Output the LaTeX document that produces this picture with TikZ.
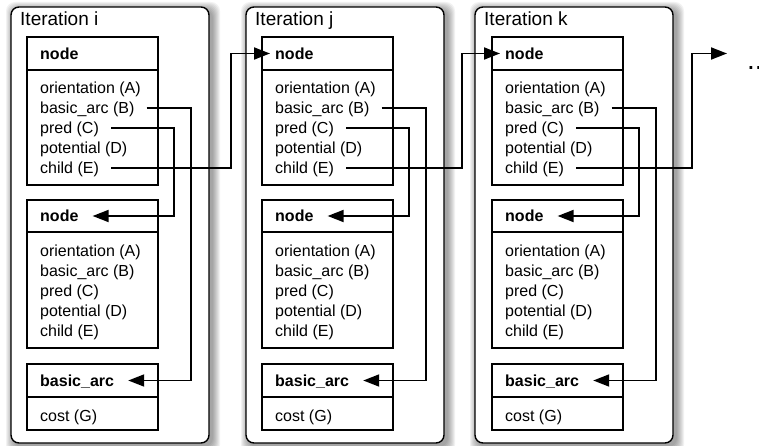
\documentclass[tikz,border=0pt]{standalone}
\usepackage{fontspec}
\setmainfont{Liberation Sans}
\usetikzlibrary{arrows.meta,calc}
\tikzset{
  panel/.style={draw, line width=1.4pt, fill=white, rounded corners=8pt, minimum width=198pt, minimum height=436pt, anchor=north west, inner sep=0pt, outer sep=0pt},
  box/.style={draw, line width=1.3pt, fill=white, minimum width=131pt, anchor=north west, inner sep=0pt, outer sep=0pt},
  txt/.style={font=\fontsize{16}{19}\selectfont, inner sep=0pt, text height=11.5pt, text depth=0pt, anchor=west},
  boldtxt/.style={txt, font=\fontsize{16}{19}\selectfont\bfseries},
  title/.style={font=\fontsize{19}{22}\selectfont, inner sep=0pt, anchor=base west},
  conn/.style={line width=1.8pt, -{Triangle[length=16pt,width=12pt]}},
  shade/.style={fill=black, opacity=0.05, rounded corners=9pt},
}
\begin{document}
\begin{tikzpicture}[x=1pt,y=-1pt]
\useasboundingbox (0,0) rectangle (759,446);
\fill[white] (0,0) rectangle (759,446);
\foreach \p/\px/\bx in {i/11/27, j/246/262, k/475/492} {
  \foreach \s in {1,...,8}
    \fill[shade] (\px+3-\s, 10-\s) rectangle (\px+201+\s, 446+\s);
  \node[panel] (\p-panel) at (\px,7) {};
  \node[title] (\p-title) at (\px+9,26) {Iteration \p};
  \node[box, minimum height=33pt] (\p-n1h) at (\bx,37) {};
  \node[box, minimum height=115pt] (\p-n1b) at (\bx,70) {};
  \node[box, minimum height=32pt] (\p-n2h) at (\bx,200) {};
  \node[box, minimum height=116pt] (\p-n2b) at (\bx,232) {};
  \node[box, minimum height=33pt] (\p-ah) at (\bx,364) {};
  \node[box, minimum height=33pt] (\p-ab) at (\bx,397) {};
  \node[boldtxt] (\p-n1t) at ([xshift=13pt]\p-n1h.west) {node};
  \node[txt] (\p-a) at (\bx+13,88) {orientation (A)};
  \node[txt] (\p-b) at (\bx+13,108) {basic\_arc (B)};
  \node[txt] (\p-c) at (\bx+13,128) {pred (C)};
  \node[txt] (\p-d) at (\bx+13,148) {potential (D)};
  \node[txt] (\p-e) at (\bx+13,168) {child (E)};
  \node[boldtxt] (\p-n2t) at ([xshift=13pt]\p-n2h.west) {node};
  \node[txt] (\p-a2) at (\bx+13,251) {orientation (A)};
  \node[txt] (\p-b2) at (\bx+13,271) {basic\_arc (B)};
  \node[txt] (\p-c2) at (\bx+13,291) {pred (C)};
  \node[txt] (\p-d2) at (\bx+13,311) {potential (D)};
  \node[txt] (\p-e2) at (\bx+13,331) {child (E)};
  \node[boldtxt] (\p-at) at ([xshift=13pt]\p-ah.west) {basic\_arc};
  \node[txt] (\p-g) at (\bx+13,416) {cost (G)};
  \draw[conn] ([xshift=12pt]\p-b.east) -| ([xshift=33pt]\p-ah.east) -- ([xshift=14pt]\p-at.east);
  \draw[conn] ([xshift=12pt]\p-c.east) -| ([xshift=16pt]\p-n2h.east) -- ([xshift=14pt]\p-n2t.east);
}
\coordinate (i-via) at (231,110);
\coordinate (j-via) at (462,110);
\coordinate (k-via) at (692,110);
\coordinate (more) at (727,53.5);
\draw[conn] ([xshift=12pt]i-e.east) -| (i-via) |- ([xshift=-5pt]j-n1t.west);
\draw[conn] ([xshift=12pt]j-e.east) -| (j-via) |- ([xshift=-5pt]k-n1t.west);
\draw[conn] ([xshift=12pt]k-e.east) -| (k-via) |- (more);
\node[font=\fontsize{28}{28}\selectfont, inner sep=0pt, anchor=base west] (dots) at (747,70) {...};
\end{tikzpicture}
\end{document}
